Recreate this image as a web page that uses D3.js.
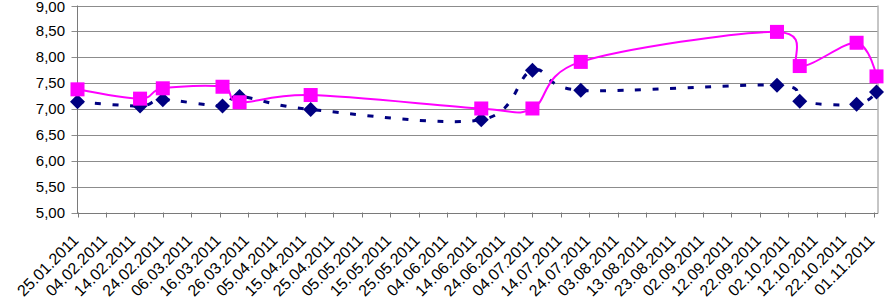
<!DOCTYPE html>
<html>
<head>
<meta charset="utf-8">
<script src="https://cdn.jsdelivr.net/npm/d3@7"></script>
<style>
  html, body { margin: 0; padding: 0; background: #fff; }
  svg { display: block; }
  text { font-family: "Liberation Sans", Arial, sans-serif; fill: #000; }
</style>
</head>
<body>
<svg id="chart" width="885" height="301"></svg>
<script>
// ---- data ----
const dates = ["25.01.2011","16.02.2011","24.02.2011","17.03.2011","23.03.2011","17.04.2011",
               "16.06.2011","04.07.2011","21.07.2011","28.09.2011","06.10.2011","26.10.2011","02.11.2011"];
const seriesPink = [7.38, 7.20, 7.40, 7.43, 7.13, 7.27, 7.01, 7.01, 7.91, 8.49, 7.83, 8.28, 7.63];
const seriesNavy = [7.14, 7.06, 7.18, 7.06, 7.24, 6.99, 6.79, 7.75, 7.36, 7.46, 7.15, 7.09, 7.33];
const yTicks = [5.0, 5.5, 6.0, 6.5, 7.0, 7.5, 8.0, 8.5, 9.0];
const axisStart = "25.01.2011";
const axisEnd = "02.11.2011";
const tickStepDays = 10;

(function () {
const parse = d3.timeParse("%d.%m.%Y");
const fmt = d3.timeFormat("%d.%m.%Y");
const yFmt = v => v.toFixed(2).replace(".", ",");

const pL = 77.5, pR = 876.5, pT = 5.5, pB = 212.5;
const svg = d3.select("#chart");

const x = d3.scaleTime().domain([parse(axisStart), parse(axisEnd)]).range([pL, pR]);
const y = d3.scaleLinear().domain([5, 9]).range([pB, pT]);

const tickDates = d3.timeDay.range(parse(axisStart), d3.timeDay.offset(parse(axisEnd), 1))
  .filter((d, i) => i % tickStepDays === 0);

// gridlines
svg.append("g").selectAll("line").data(yTicks).join("line")
  .attr("x1", pL - 6).attr("x2", pR + 1)
  .attr("y1", d => Math.round(y(d)) + 0.5).attr("y2", d => Math.round(y(d)) + 0.5)
  .attr("stroke", "#8c8c8c").attr("stroke-width", 1);

// right border
svg.append("line").attr("x1", pR + 1.5).attr("x2", pR + 1.5)
  .attr("y1", y(9)).attr("y2", pB + 1)
  .attr("stroke", "#8c8c8c").attr("stroke-width", 1);

// y axis labels
svg.append("g").selectAll("text").data(yTicks).join("text")
  .attr("x", 65).attr("y", d => y(d))
  .attr("dy", d => d === 9 ? "0.42em" : "0.34em")
  .attr("text-anchor", "end")
  .style("font-size", "15px")
  .text(yFmt);

// axes lines
svg.append("line").attr("x1", pL).attr("x2", pR + 1.5)
  .attr("y1", Math.round(pB) + 0.5).attr("y2", Math.round(pB) + 0.5)
  .attr("stroke", "#7a7a7a").attr("stroke-width", 1);
svg.append("line").attr("x1", pL).attr("x2", pL)
  .attr("y1", y(9)).attr("y2", pB + 1)
  .attr("stroke", "#7a7a7a").attr("stroke-width", 1);

svg.append("g").selectAll("line").data(tickDates).join("line")
  .attr("x1", d => Math.round(x(d)) + 0.5).attr("x2", d => Math.round(x(d)) + 0.5)
  .attr("y1", pB).attr("y2", pB + 5)
  .attr("stroke", "#7a7a7a").attr("stroke-width", 1);

svg.append("g").selectAll("text").data(tickDates).join("text")
  .attr("transform", d => `translate(${x(d) + 2},${pB + 29}) rotate(-45)`)
  .attr("text-anchor", "end")
  .style("font-size", "16px")
  .text(d => fmt(d));

// series
const pts = (vals) => dates.map((d, i) => ({ d: parse(d), v: vals[i] }));
const line = d3.line().x(p => x(p.d)).y(p => y(p.v)).curve(d3.curveCardinal.tension(0));

svg.append("path").datum(pts(seriesNavy))
  .attr("d", line).attr("fill", "none")
  .attr("stroke", "#000080").attr("stroke-width", 3)
  .attr("stroke-dasharray", "6,11.5");

svg.append("path").datum(pts(seriesPink))
  .attr("d", line).attr("fill", "none")
  .attr("stroke", "#ff00ff").attr("stroke-width", 2);

svg.append("g").selectAll("path").data(pts(seriesNavy)).join("path")
  .attr("d", p => { const cx = x(p.d), cy = y(p.v), r = 7.5;
    return `M${cx},${cy - r}L${cx + r},${cy}L${cx},${cy + r}L${cx - r},${cy}Z`; })
  .attr("fill", "#000080");

svg.append("g").selectAll("rect").data(pts(seriesPink)).join("rect")
  .attr("x", p => x(p.d) - 7).attr("y", p => y(p.v) - 7)
  .attr("width", 14).attr("height", 14)
  .attr("fill", "#ff00ff");
})();
</script>
</body>
</html>
